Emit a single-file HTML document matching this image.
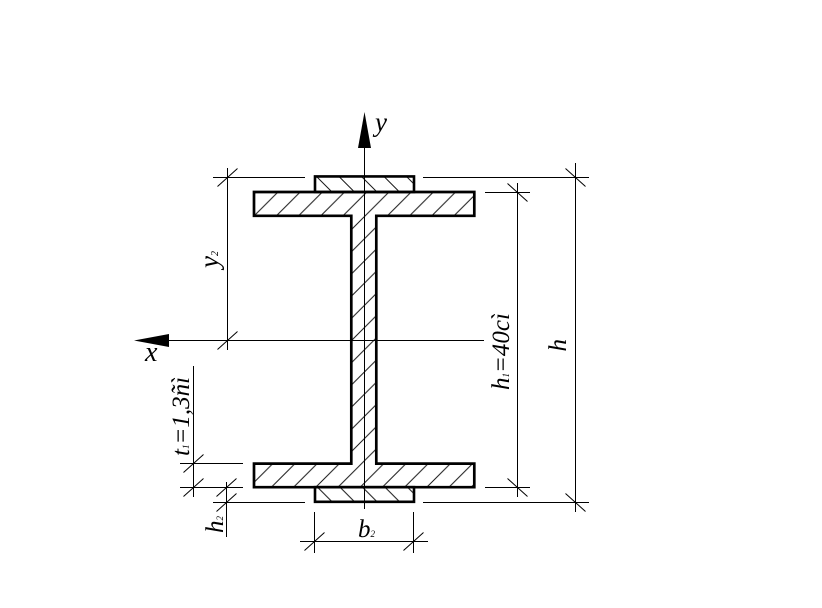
<!DOCTYPE html>
<html>
<head>
<meta charset="utf-8">
<style>
  html, body { margin: 0; padding: 0; background: #fff; }
  svg { display: block; }
  text { font-family: "Liberation Serif", "DejaVu Serif", serif; font-style: italic; fill: #000; }
</style>
</head>
<body>
<svg width="822" height="608" viewBox="0 0 822 608" xmlns="http://www.w3.org/2000/svg">
  <defs>
    <pattern id="hatchF" patternUnits="userSpaceOnUse" width="22.2" height="22.2" patternTransform="translate(3.8,0)">
      <path d="M0,22.2 L22.2,0 M-1,1 L1,-1 M21.2,23.2 L23.2,21.2" stroke="#1a1a1a" stroke-width="1" fill="none"/>
    </pattern>
    <pattern id="hatchT" patternUnits="userSpaceOnUse" width="22.5" height="22.5" patternTransform="translate(5,0)">
      <path d="M0,0 L22.5,22.5 M-1,21.5 L1,23.5 M21.5,-1 L23.5,1" stroke="#1a1a1a" stroke-width="1" fill="none"/>
    </pattern>
    <pattern id="hatchB" patternUnits="userSpaceOnUse" width="22.5" height="22.5" patternTransform="translate(10.3,0)">
      <path d="M0,0 L22.5,22.5 M-1,21.5 L1,23.5 M21.5,-1 L23.5,1" stroke="#1a1a1a" stroke-width="1" fill="none"/>
    </pattern>
  </defs>

  <!-- I-section -->
  <polygon points="254,192 474.3,192 474.3,215.8 376.3,215.8 376.3,463.6 474.3,463.6 474.3,487.2 254,487.2 254,463.6 351.3,463.6 351.3,215.8 254,215.8"
           fill="url(#hatchF)" stroke="#000" stroke-width="2.7" stroke-linejoin="miter"/>
  <!-- top plate -->
  <polygon points="315,176.4 414,176.4 414,192 315,192" fill="url(#hatchT)" stroke="#000" stroke-width="2.6"/>
  <!-- bottom plate -->
  <polygon points="315,487.2 414,487.2 414,501.8 315,501.8" fill="url(#hatchB)" stroke="#000" stroke-width="2.6"/>

  <g stroke="#000" stroke-width="1" fill="none">
    <!-- y axis -->
    <line x1="364.5" y1="146" x2="364.5" y2="509"/>
    <!-- x axis -->
    <line x1="168" y1="340.5" x2="484" y2="340.5"/>

    <!-- y2 dimension -->
    <line x1="227.5" y1="168" x2="227.5" y2="350"/>
    <line x1="213" y1="177.5" x2="305" y2="177.5"/>
    <line x1="217.5" y1="186.5" x2="237.5" y2="168.5"/>
    <line x1="217.5" y1="349.5" x2="237.5" y2="331.5"/>

    <!-- top right extension -->
    <line x1="423" y1="177.5" x2="589" y2="177.5"/>
    <!-- h dimension -->
    <line x1="575.5" y1="163" x2="575.5" y2="512"/>
    <line x1="565.5" y1="168.5" x2="585.5" y2="186.5"/>
    <line x1="565.5" y1="493.5" x2="585.5" y2="511.5"/>
    <line x1="423" y1="502.5" x2="589" y2="502.5"/>

    <!-- h1 dimension -->
    <line x1="517.5" y1="183" x2="517.5" y2="497"/>
    <line x1="485" y1="192.5" x2="530" y2="192.5"/>
    <line x1="485" y1="487.5" x2="530" y2="487.5"/>
    <line x1="507.5" y1="183.5" x2="527.5" y2="201.5"/>
    <line x1="507.5" y1="478.5" x2="527.5" y2="496.5"/>

    <!-- bottom left extension -->
    <line x1="213" y1="502.5" x2="305" y2="502.5"/>

    <!-- t1 dimension -->
    <line x1="193.5" y1="366" x2="193.5" y2="497"/>
    <line x1="180" y1="463.5" x2="243" y2="463.5"/>
    <line x1="180" y1="487.5" x2="243" y2="487.5"/>
    <line x1="183.5" y1="472.5" x2="203.5" y2="454.5"/>
    <line x1="183.5" y1="496.5" x2="203.5" y2="478.5"/>

    <!-- h2 dimension -->
    <line x1="226.5" y1="482" x2="226.5" y2="537"/>
    <line x1="216.5" y1="496.5" x2="236.5" y2="478.5"/>
    <line x1="216.5" y1="511.5" x2="236.5" y2="493.5"/>

    <!-- b2 dimension -->
    <line x1="314.5" y1="512" x2="314.5" y2="553"/>
    <line x1="413.5" y1="512" x2="413.5" y2="553"/>
    <line x1="300" y1="541.5" x2="428" y2="541.5"/>
    <line x1="304.5" y1="550.5" x2="324.5" y2="532.5"/>
    <line x1="403.5" y1="550.5" x2="423.5" y2="532.5"/>
  </g>

  <!-- arrows -->
  <polygon points="364.5,112 358,148 371,148" fill="#000"/>
  <polygon points="134,340.5 169,334 169,347" fill="#000"/>

  <!-- labels -->
  <text x="375" y="131" font-size="27">y</text>
  <text x="145" y="361" font-size="28">x</text>

  <text transform="translate(218,268) rotate(-90)" font-size="27">y<tspan font-size="10">2</tspan></text>
  <text transform="translate(509,390) rotate(-90)" font-size="25">h<tspan font-size="9">1</tspan>=40cì</text>
  <text transform="translate(566,351.5) rotate(-90)" font-size="25">h</text>
  <text transform="translate(189,456) rotate(-90)" font-size="25">t<tspan font-size="9">1</tspan>=1,3ñì</text>
  <text transform="translate(223,533) rotate(-90)" font-size="25">h<tspan font-size="9">2</tspan></text>
  <text x="358" y="537" font-size="25">b<tspan font-size="9">2</tspan></text>
</svg>
</body>
</html>
